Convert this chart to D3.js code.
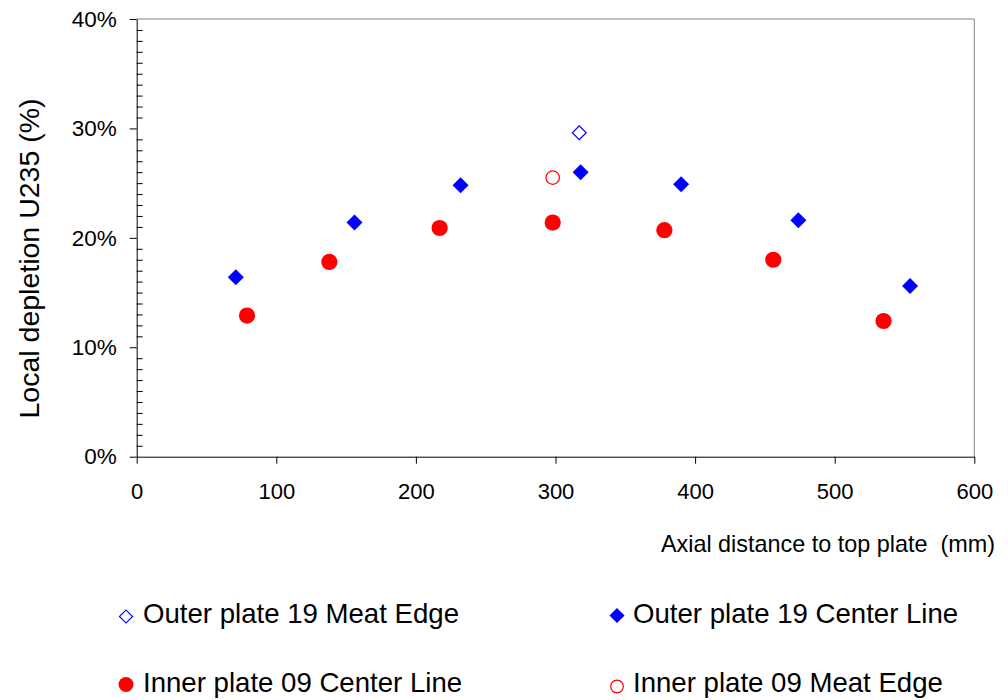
<!DOCTYPE html>
<html>
<head>
<meta charset="utf-8">
<script src="https://cdn.jsdelivr.net/npm/d3@7"></script>
<style>
  html, body { margin: 0; padding: 0; background: #fff; }
  svg { display: block; }
</style>
</head>
<body>
<div id="chart"></div>
<script>
// values (x in mm, y in %)
const outerCenterX = [71, 156, 232, 318, 390, 474, 554];
const outerCenterY = [16.4, 21.4, 24.8, 26.0, 24.9, 21.6, 15.6];
const outerEdgeX = [317];
const outerEdgeY = [29.6];
const innerCenterX = [79, 138, 217, 298, 378, 456, 535];
const innerCenterY = [12.9, 17.8, 20.9, 21.4, 20.7, 18.0, 12.4];
const innerEdgeX = [298];
const innerEdgeY = [25.5];

const xTicks = [0, 100, 200, 300, 400, 500, 600];
const yTicks = [0, 10, 20, 30, 40];

const seriesNames = [
  "Outer plate 19 Meat Edge",
  "Outer plate 19 Center Line",
  "Inner plate 09 Center Line",
  "Inner plate 09 Meat Edge"
];

const width = 1008, height = 700;
const font = "'Liberation Sans', Arial, sans-serif";

const x = d3.scaleLinear([0, 600], [136.7, 974.3]);
const y = d3.scaleLinear([0, 40], [456.7, 19]);

const svg = d3.select("#chart").append("svg")
    .attr("width", width)
    .attr("height", height)
    .attr("font-family", font);

// frame (top and right, grey)
svg.append("path")
    .attr("fill", "none")
    .attr("stroke", "#808080")
    .attr("stroke-width", 1)
    .attr("d", `M${x(0)},${y(40)}H${x(600)}V${y(0)}`);

// minor ticks on y, pointing inward
const minor = d3.range(0, 41).filter(d => d % 10 !== 0);
svg.append("g")
    .attr("transform", `translate(${x(0)},0)`)
    .call(d3.axisLeft(y).tickValues(minor).tickSize(-6).tickFormat(""))
    .call(g => g.select(".domain").remove())
    .call(g => g.selectAll("line").attr("stroke", "#000"));

// y axis
svg.append("g")
    .attr("transform", `translate(${x(0)},0)`)
    .call(d3.axisLeft(y).tickValues(yTicks).tickSize(7).tickSizeOuter(0).tickPadding(13)
      .tickFormat(d => d + "%"))
    .call(g => g.select(".domain").attr("stroke", "#000"))
    .call(g => g.selectAll("text").attr("font-size", 22.5).attr("font-family", font).attr("fill", "#000"));

// x axis
svg.append("g")
    .attr("transform", `translate(0,${y(0)})`)
    .call(d3.axisBottom(x).tickValues(xTicks).tickSize(7).tickSizeOuter(0).tickPadding(20))
    .call(g => g.select(".domain").attr("stroke", "#000"))
    .call(g => g.selectAll("text").attr("font-size", 22).attr("font-family", font).attr("fill", "#000"));

// axis titles
svg.append("text")
    .attr("x", 995)
    .attr("y", 551.5)
    .attr("text-anchor", "end")
    .attr("font-size", 23.4)
    .text("Axial distance to top plate\u00a0\u00a0(mm)");

svg.append("text")
    .attr("transform", "translate(39,258.5) rotate(-90)")
    .attr("text-anchor", "middle")
    .attr("font-size", 28.5)
    .text("Local depletion U235 (%)");

// markers
const diamond = (size) => d3.symbol(d3.symbolSquare, size)();

function drawDiamonds(xs, ys, size, filled) {
  svg.append("g").selectAll("path")
    .data(d3.range(xs.length))
    .join("path")
      .attr("transform", i => `translate(${x(xs[i])},${y(ys[i])}) rotate(45)`)
      .attr("d", diamond(size))
      .attr("fill", filled ? "#0000ff" : "none")
      .attr("stroke", filled ? "none" : "#0000ff")
      .attr("stroke-width", 1.2);
}

function drawCircles(xs, ys, r, filled) {
  svg.append("g").selectAll("circle")
    .data(d3.range(xs.length))
    .join("circle")
      .attr("cx", i => x(xs[i]))
      .attr("cy", i => y(ys[i]))
      .attr("r", r)
      .attr("fill", filled ? "#ff0000" : "none")
      .attr("stroke", filled ? "none" : "#ff0000")
      .attr("stroke-width", 1.2);
}

drawDiamonds(outerEdgeX, outerEdgeY, 95, false);
drawDiamonds(outerCenterX, outerCenterY, 128, true);
drawCircles(innerCenterX, innerCenterY, 8.1, true);
drawCircles(innerEdgeX, innerEdgeY, 6.7, false);

// legend
const legendItems = [
  {name: seriesNames[0], mx: 126, my: 616.5, tx: 143, ty: 623, kind: "diamond", filled: false},
  {name: seriesNames[1], mx: 617, my: 615.5, tx: 633, ty: 623, kind: "diamond", filled: true},
  {name: seriesNames[2], mx: 126, my: 684.5, tx: 143, ty: 692, kind: "circle", filled: true},
  {name: seriesNames[3], mx: 617, my: 686.5, tx: 633, ty: 692, kind: "circle", filled: false}
];

const legend = svg.append("g");
legendItems.forEach(d => {
  if (d.kind === "diamond") {
    legend.append("path")
        .attr("transform", `translate(${d.mx},${d.my}) rotate(45)`)
        .attr("d", diamond(d.filled ? 115 : 85))
        .attr("fill", d.filled ? "#0000ff" : "none")
        .attr("stroke", d.filled ? "none" : "#0000ff")
        .attr("stroke-width", 1.2);
  } else {
    legend.append("circle")
        .attr("cx", d.mx)
        .attr("cy", d.my)
        .attr("r", d.filled ? 7.5 : 6.3)
        .attr("fill", d.filled ? "#ff0000" : "none")
        .attr("stroke", d.filled ? "none" : "#ff0000")
        .attr("stroke-width", 1.2);
  }
  legend.append("text")
      .attr("x", d.tx)
      .attr("y", d.ty)
      .attr("font-size", 27.6)
      .text(d.name);
});
</script>
</body>
</html>
